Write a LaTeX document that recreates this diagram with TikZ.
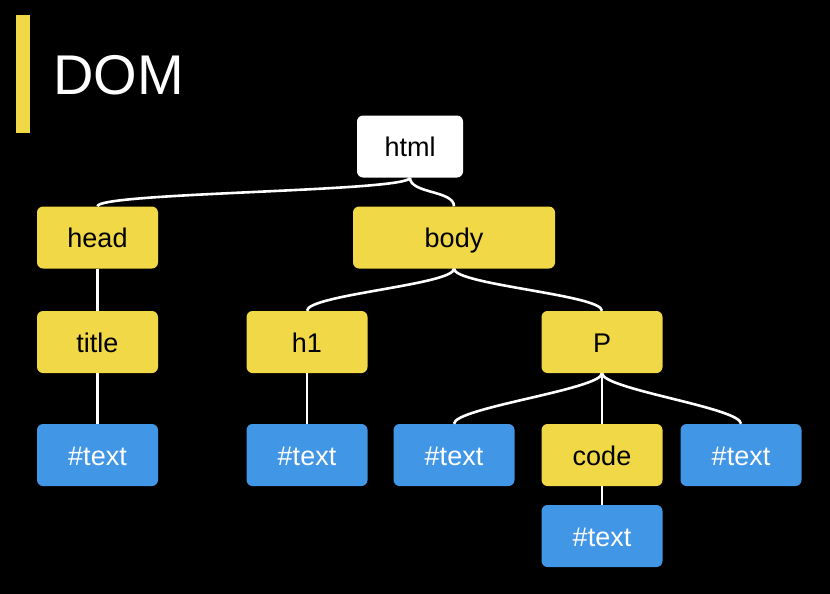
\documentclass[tikz,border=0pt]{standalone}
\usepackage{fontspec}
\setmainfont{Liberation Sans}
\definecolor{domyellow}{RGB}{240,216,70}
\definecolor{domblue}{RGB}{66,150,230}
\begin{document}
\begin{tikzpicture}[x=1pt,y=-1pt,
  box/.style={rounded corners=6pt, minimum width=121pt, minimum height=62pt,
    inner sep=0pt, text height=24pt, text depth=4pt,
    font=\fontsize{27}{30}\selectfont},
  elem/.style={box, fill=domyellow, text=black},
  txt/.style={box, fill=domblue, text=white},
  root/.style={box, fill=white, text=black, minimum width=106pt},
  link/.style={draw=white, line width=2.6pt}]
  % background and page frame
  \fill[black] (0,0) rectangle (830,594);
  \useasboundingbox (0,0) rectangle (830,594);

  % title with accent bar
  \fill[domyellow] (16,15) rectangle (30,133);
  \node[anchor=base west, inner sep=0pt, text=white,
        font=\fontsize{56}{60}\selectfont] (heading) at (53,95) {DOM};

  % tree nodes
  \node[root] (html) at (410,146.5) {html};
  \node[elem] (head) at (97.5,237.5) {head};
  \node[elem, minimum width=202pt] (body) at (454,237.5) {body};
  \node[elem] (title) at (97.5,342) {title};
  \node[elem] (h1) at (307,342) {h1};
  \node[elem] (p) at (602,342) {P};
  \node[txt] (t1) at (97.5,455) {\#text};
  \node[txt] (t2) at (307,455) {\#text};
  \node[txt] (t3) at (454,455) {\#text};
  \node[elem] (code) at (602,455) {code};
  \node[txt] (t5) at (741,455) {\#text};
  \node[txt] (t6) at (602,536) {\#text};

  % connectors
  \draw[link] (html.south) .. controls +(0,14) and +(0,-14) .. (head.north);
  \draw[link] (html.south) .. controls +(0,16) and +(0,-16) .. (body.north);
  \draw[link] (body.south) .. controls +(0,16) and +(0,-16) .. (h1.north);
  \draw[link] (body.south) .. controls +(0,16) and +(0,-16) .. (p.north);
  \draw[link] (p.south) .. controls +(0,16) and +(0,-16) .. (t3.north);
  \draw[link] (p.south) -- (code.north);
  \draw[link] (p.south) .. controls +(0,16) and +(0,-16) .. (t5.north);
  \draw[link] (head.south) -- (title.north);
  \draw[link] (title.south) -- (t1.north);
  \draw[link] (h1.south) -- (t2.north);
  \draw[link] (code.south) -- (t6.north);
\end{tikzpicture}
\end{document}
